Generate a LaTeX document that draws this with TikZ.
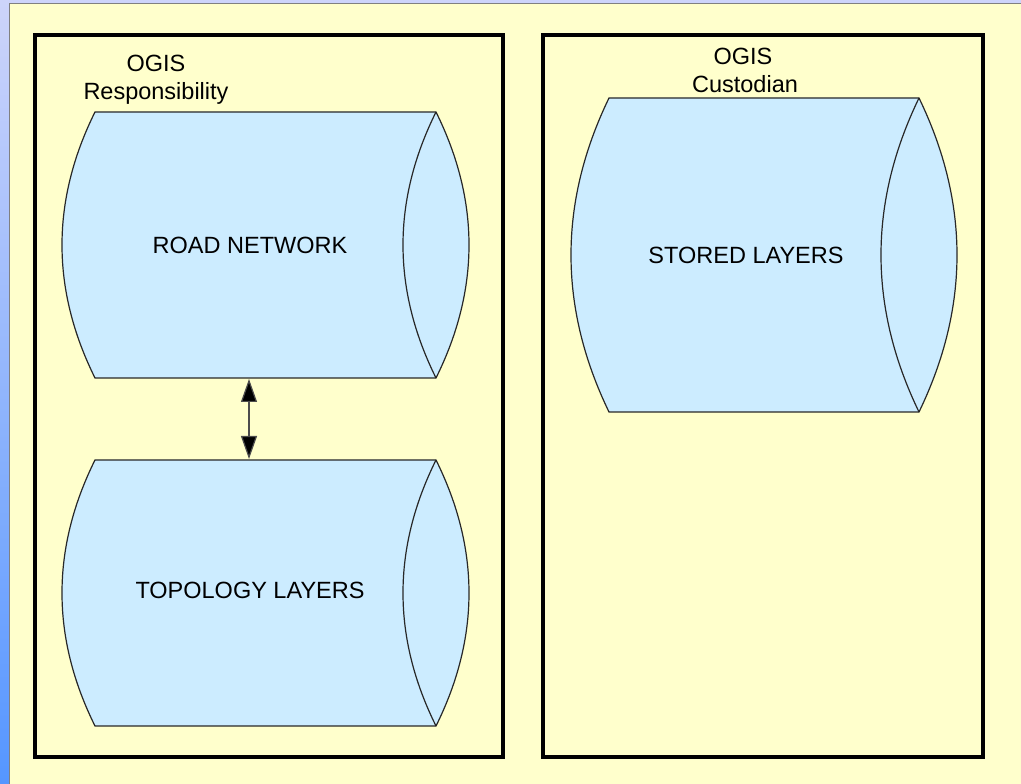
\documentclass[tikz,border=0pt]{standalone}
\usepackage{fontspec}
\setmainfont{Liberation Sans}
\usetikzlibrary{arrows.meta}
\definecolor{paper}{RGB}{255,255,204}
\definecolor{cylfill}{RGB}{204,236,255}
\definecolor{cyledge}{RGB}{40,40,40}
\begin{document}
\begin{tikzpicture}[x=1pt,y=1pt,
  frame/.style={draw=black,line width=3.5pt,fill=none},
  cyl/.style={draw=cyledge,line width=1.2pt,fill=cylfill,line join=miter},
  lbl/.style={inner sep=0pt,anchor=base,font=\fontsize{23.5}{28}\selectfont},
  link/.style={draw=black!70,line width=1.2pt,{Triangle[length=23pt,width=16pt,fill=black]}-{Triangle[length=23pt,width=16pt,fill=black]}}]
\useasboundingbox (0,0) rectangle (1021,784);
% background
\shade[top color={rgb,255:red,205;green,212;blue,250},bottom color={rgb,255:red,85;green,150;blue,255}] (0,0) rectangle (1021,784);
\fill[paper] (9,0) rectangle (1021,780);
\draw[gray,line width=1pt] (9,0) -- (9,780) -- (1021,780);
% frames
\draw[frame] (35,27) rectangle (503,749);
\draw[frame] (543,27) rectangle (983,749);
% cylinders (lens-shaped ends, quadratic curves written as cubic)
\newcommand{\drumshape}[6]{% name, xl, xr, ycenter, bulge, halfheight
  \path[cyl] (#3,#4+#6) -- (#2,#4+#6)
    .. controls (#2-4/3*#5,#4+#6/3) and (#2-4/3*#5,#4-#6/3) .. (#2,#4-#6)
    -- (#3,#4-#6)
    .. controls (#3+4/3*#5,#4-#6/3) and (#3+4/3*#5,#4+#6/3) .. (#3,#4+#6) -- cycle;
  \draw[draw=cyledge,line width=1.2pt] (#3,#4+#6)
    .. controls (#3-4/3*#5,#4+#6/3) and (#3-4/3*#5,#4-#6/3) .. (#3,#4-#6);
  \coordinate (#1-top) at ({(#2+#3)/2},#4+#6);
  \coordinate (#1-bot) at ({(#2+#3)/2},#4-#6);
}
\drumshape{road}{95}{436}{539}{33}{133}
\drumshape{topo}{95}{436}{191}{33}{133}
\drumshape{stored}{609}{919}{529}{38}{157}
% labels
\node[lbl] (ogis1) at (156,712) {OGIS};
\node[lbl] (resp) at (156,684) {Responsibility};
\node[lbl] (ogis2) at (743,719) {OGIS};
\node[lbl] (cust) at (745,691) {Custodian};
\node[lbl] (roadlbl) at (250,530.6) {ROAD NETWORK};
\node[lbl] (topolbl) at (250,185.6) {TOPOLOGY LAYERS};
\node[lbl] (storedlbl) at (746,520.6) {STORED LAYERS};
% arrow
\coordinate (a1) at (249,405);
\coordinate (a2) at (249,325);
\draw[link] (a1) -- (a2);
\end{tikzpicture}
\end{document}
